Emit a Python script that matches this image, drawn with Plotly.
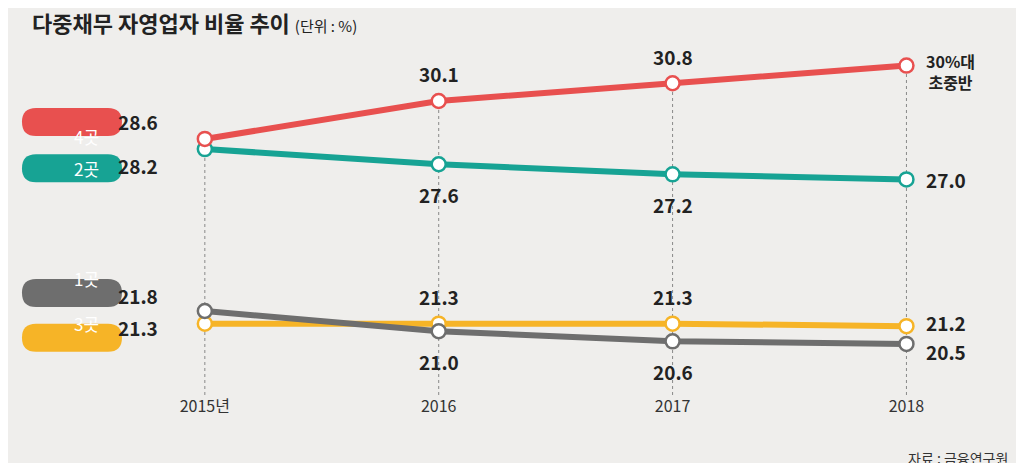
import plotly.graph_objects as go

years = [2015, 2016, 2017, 2018]
series_names = ["4곳", "2곳", "1곳", "3곳"]
v4 = [28.6, 30.1, 30.8, 31.5]
v2 = [28.2, 27.6, 27.2, 27.0]
v1 = [21.8, 21.0, 20.6, 20.5]
v3 = [21.3, 21.3, 21.3, 21.2]
tick_labels = ["2015년", "2016", "2017", "2018"]

colors = {"4곳": "#e8504f", "2곳": "#17a394", "1곳": "#6e6e6e", "3곳": "#f6b427"}
values = {"4곳": v4, "2곳": v2, "1곳": v1, "3곳": v3}
bg = "#efeeec"
font = "Noto Sans CJK KR"

fig = go.Figure()

# dotted guides from the top point down to the axis
for i, yr in enumerate(years):
    top = max(v[i] for v in values.values())
    fig.add_shape(type="line", xref="x", yref="y", x0=yr, x1=yr, y0=18.48, y1=top,
                  line=dict(color="#888", width=1, dash="dot"), layer="below")

for name in ["3곳", "1곳", "2곳", "4곳"]:
    fig.add_trace(go.Scatter(
        x=years, y=values[name], mode="lines+markers", name=name,
        line=dict(color=colors[name], width=6),
        marker=dict(size=14, color="white", line=dict(color=colors[name], width=2.5)),
        cliponaxis=False))

def label(x, y, text, xs=0, ys=0, xanchor="center", size=19):
    fig.add_annotation(x=x, y=y, text=text, showarrow=False, xshift=xs, yshift=ys,
                       xanchor=xanchor, font=dict(size=size, color="#222", family=font))

# value labels
label(2015, v4[0], "<b>28.6</b>", xs=-45, ys=17, xanchor="right")
label(2015, v2[0], "<b>28.2</b>", xs=-45, ys=-16, xanchor="right")
label(2015, v1[0], "<b>21.8</b>", xs=-45, ys=15, xanchor="right")
label(2015, v3[0], "<b>21.3</b>", xs=-45, ys=-4, xanchor="right")
for i in [1, 2]:
    label(years[i], v4[i], f"<b>{v4[i]:.1f}</b>", ys=27)
    label(years[i], v2[i], f"<b>{v2[i]:.1f}</b>", ys=-30)
    label(years[i], v3[i], f"<b>{v3[i]:.1f}</b>", ys=27)
    label(years[i], v1[i], f"<b>{v1[i]:.1f}</b>", ys=-30)
label(2018, v2[3], "<b>27.0</b>", xs=18, xanchor="left")
label(2018, v3[3], "<b>21.2</b>", xs=18, ys=4, xanchor="left")
label(2018, v1[3], "<b>20.5</b>", xs=18, ys=-8, xanchor="left")
fig.add_annotation(x=2018, y=v4[3], text="<b>30%대<br>초중반</b>", showarrow=False, xshift=18, yshift=-6,
                   xanchor="left", font=dict(size=16, color="#222", family=font))

# legend pills
pill_y = {"4곳": 0.769, "2곳": 0.639, "1곳": 0.287, "3곳": 0.161}
w, h = 50, 14
path = (f"M {-w + h},{-h} L {w - h},{-h} Q {w},{-h} {w},0 Q {w},{h} {w - h},{h} "
        f"L {-w + h},{h} Q {-w},{h} {-w},0 Q {-w},{-h} {-w + h},{-h} Z")
for name, py in pill_y.items():
    fig.add_shape(type="path", xref="paper", yref="paper", xsizemode="pixel", ysizemode="pixel",
                  xanchor=-0.0667, yanchor=py, path=path, fillcolor=colors[name], line_width=0)
    fig.add_annotation(xref="paper", yref="paper", x=-0.0667, y=py, text=name, showarrow=False,
                       font=dict(size=17, color="white", family=font))

fig.add_annotation(xref="paper", yref="paper", x=-0.115, y=1.0, xanchor="left", yanchor="bottom",
                   text="<b>다중채무 자영업자 비율 추이</b> <span style='font-size:15px'>(단위 : %)</span>",
                   showarrow=False, font=dict(size=22, color="#222", family=font))
fig.add_annotation(xref="paper", yref="paper", x=1.011, y=-0.178, xanchor="right", yanchor="middle",
                   text="자료 : 금융연구원", showarrow=False, font=dict(size=14, color="#333", family=font))

fig.update_layout(
    width=1008, height=455, paper_bgcolor=bg, plot_bgcolor=bg, showlegend=False,
    margin=dict(l=122, r=16, t=32, b=68),
    xaxis=dict(range=[2014.68, 2018.40], tickvals=years, ticktext=tick_labels, showgrid=False,
               zeroline=False, showline=False, ticks="",
               tickfont=dict(size=16, color="#333", family=font)),
    yaxis=dict(range=[18.48, 32.51], visible=False),
)
fig.write_html("out.html")
